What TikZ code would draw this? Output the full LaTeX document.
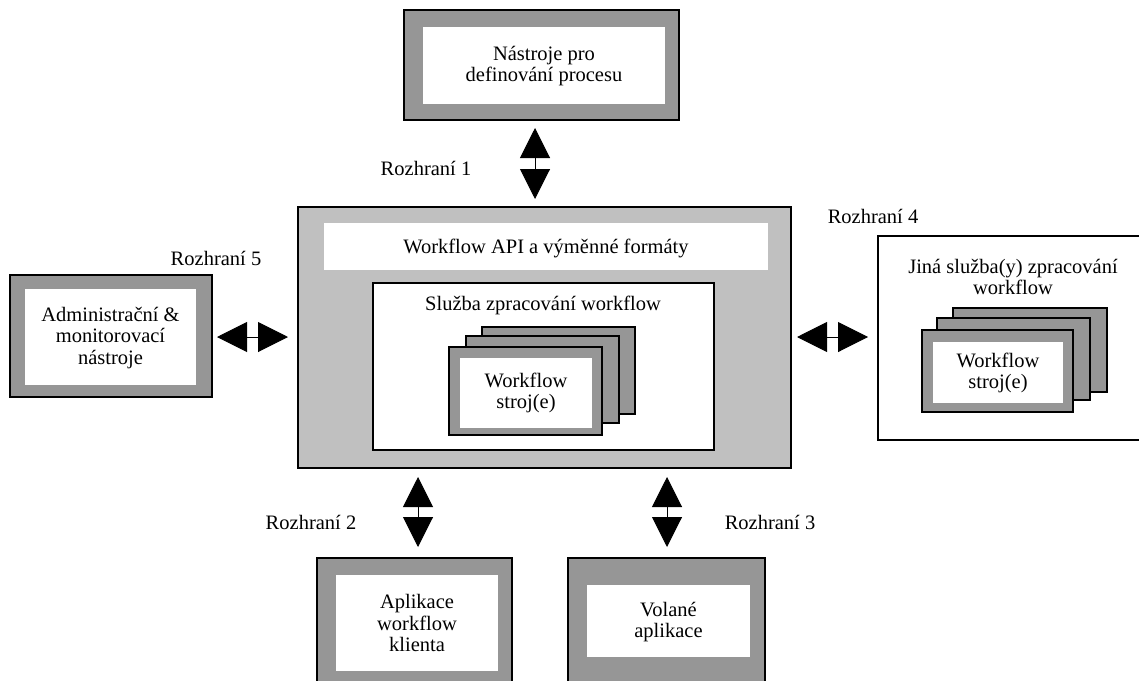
\documentclass[tikz,border=0pt]{standalone}
\usepackage{fontspec}
\setmainfont{Liberation Serif}
\usetikzlibrary{arrows.meta,calc}
\definecolor{framegray}{HTML}{969696}
\definecolor{maingray}{HTML}{C0C0C0}
\begin{document}
\begin{tikzpicture}[x=1pt,y=-1pt,
  every node/.style={inner sep=0pt,outer sep=0pt,font=\fontsize{20.5}{21.5}\selectfont},
  grayframe/.style={draw=black,line width=1.1pt,fill=framegray,rectangle},
  whitein/.style={fill=white,rectangle},
  engbox/.style={draw=black,line width=1.1pt,fill=framegray,rectangle,minimum width=153pt,minimum height=87pt},
  txt/.style={align=center},
  biarrow/.style={line width=1pt,{Triangle[width=30pt,length=30pt]}-{Triangle[width=30pt,length=30pt]}}
]
\useasboundingbox (0,0) rectangle (1139,680);
\clip (0,0) rectangle (1139,680);
\fill[white] (0,0) rectangle (1139,680);

% top: process definition tools
\node[grayframe,minimum width=275pt,minimum height=110pt] (top) at (541.5,65) {};
\node[whitein,minimum width=242pt,minimum height=77pt] (topin) at (544,65.5) {};
\node[txt] (toptxt) at (544,66) {Nástroje pro\\definování procesu};

% main enactment service
\node[draw=black,line width=1.1pt,fill=maingray,minimum width=493pt,minimum height=261pt] (main) at (544.5,337.5) {};
\node[whitein,minimum width=444pt,minimum height=47pt] (api) at (546,246.5) {};
\node[txt] (apitxt) at (546,248) {Workflow API a výměnné formáty};
\node[draw=black,line width=1.1pt,fill=white,minimum width=341pt,minimum height=167pt] (sluzba) at (543.5,366.5) {};
\node[txt] (sluzbatxt) at (543,305) {Služba zpracování workflow};
\node[engbox] (e3) at (558.5,370.5) {};
\node[engbox] (e2) at (542.5,379.5) {};
\node[engbox,minimum height=88pt] (e1) at (525.5,391) {};
\node[whitein,minimum width=132pt,minimum height=70pt] (e1in) at (526,393) {};
\node[txt] (e1txt) at (526,393) {Workflow\\stroj(e)};

% admin tools
\node[grayframe,minimum width=202pt,minimum height=122pt] (admin) at (111,336) {};
\node[whitein,minimum width=171pt,minimum height=96pt] (adminin) at (110.5,337) {};
\node[txt] (admintxt) at (110.5,338) {Administrační \&\\monitorovací\\nástroje};

% other enactment services
\node[draw=black,line width=1.1pt,fill=white,minimum width=272pt,minimum height=204pt] (other) at (1014,338) {};
\node[txt] (othertxt) at (1013,277) {Jiná služba(y) zpracování\\workflow};
\node[engbox,minimum width=154pt,minimum height=84pt] (f3) at (1030,350) {};
\node[engbox,minimum height=82pt] (f2) at (1013.5,359) {};
\node[engbox,minimum width=151pt,minimum height=82pt] (f1) at (997.5,371) {};
\node[whitein,minimum width=130pt,minimum height=61pt] (f1in) at (998,372.5) {};
\node[txt] (f1txt) at (998,373) {Workflow\\stroj(e)};

% client applications
\node[grayframe,minimum width=195pt,minimum height=142pt] (client) at (414.5,629) {};
\node[whitein,minimum width=162pt,minimum height=96pt] (clientin) at (417,623) {};
\node[txt] (clienttxt) at (417,623) {Aplikace\\workflow\\klienta};

% invoked applications
\node[grayframe,minimum width=197pt,minimum height=142pt] (invoked) at (666.5,629) {};
\node[whitein,minimum width=163pt,minimum height=72pt] (invokedin) at (668.5,621) {};
\node[txt] (invokedtxt) at (668.5,622) {Volané\\aplikace};

% interface labels
\node (r1) at (426,168) {Rozhraní 1};
\node (r2) at (311,522) {Rozhraní 2};
\node (r3) at (770,522) {Rozhraní 3};
\node (r4) at (873,216) {Rozhraní 4};
\node (r5) at (216,258) {Rozhraní 5};

% interface arrows
\coordinate (a1t) at (535,128);
\coordinate (a1b) at (535,199);
\coordinate (a5l) at (217,337);
\coordinate (a5r) at (288,337);
\coordinate (a4l) at (797,337);
\coordinate (a4r) at (868,337);
\coordinate (a2t) at (418,477);
\coordinate (a2b) at (418,547);
\coordinate (a3t) at (667,477);
\coordinate (a3b) at (667,547);
\draw[biarrow] (a1t) -- (a1b);
\draw[biarrow] (a5l) -- (a5r);
\draw[biarrow] (a4l) -- (a4r);
\draw[biarrow] (a2t) -- (a2b);
\draw[biarrow] (a3t) -- (a3b);
\end{tikzpicture}
\end{document}
